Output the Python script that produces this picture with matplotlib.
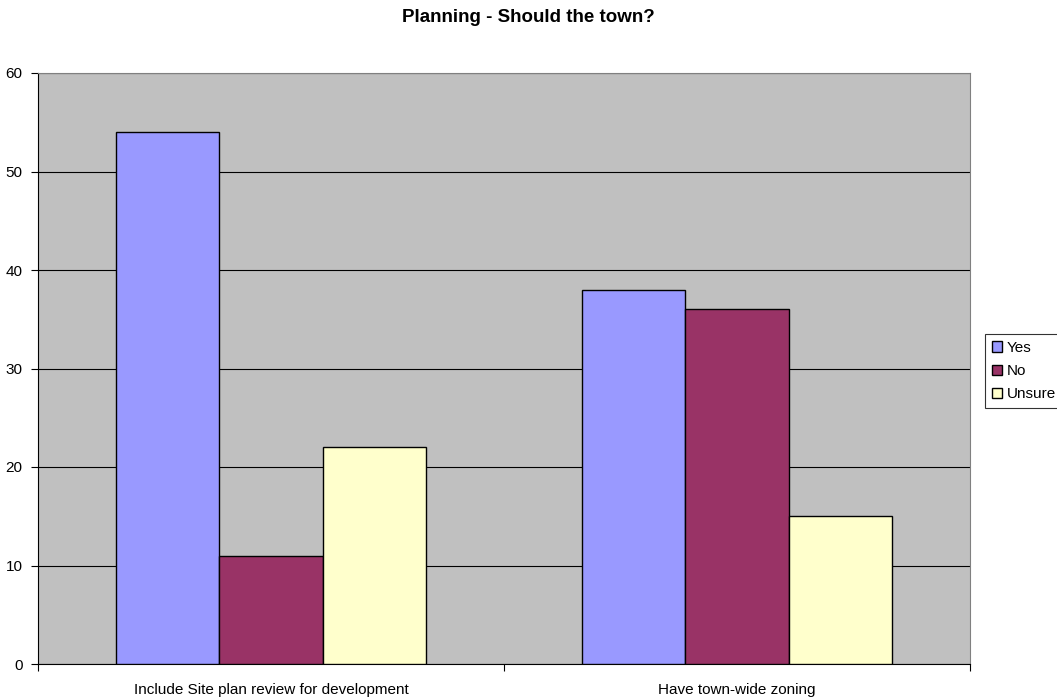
import matplotlib
matplotlib.use('Agg')
import matplotlib.pyplot as plt
import numpy as np

categories = ['Include Site plan review for development', 'Have town-wide zoning']
series_names = ['Yes', 'No', 'Unsure']
yes_values = [54, 38]
no_values = [11, 36]
unsure_values = [22, 15]
colors = ['#9999FF', '#993366', '#FFFFCC']

plt.rcParams['font.family'] = ['Liberation Sans', 'DejaVu Sans']

fig = plt.figure(figsize=(10.57, 6.98), dpi=100)
ax = fig.add_axes([38 / 1057, 34 / 698, 932 / 1057, 591 / 698])
ax.set_facecolor('#C0C0C0')

# bars: each category occupies one unit, bars centred in it
x = np.arange(len(categories)) + 0.5
width = 0.222
for i, (name, vals) in enumerate(zip(series_names, [yes_values, no_values, unsure_values])):
    ax.bar(x + (i - 1) * width, vals, width, color=colors[i], edgecolor='black',
           linewidth=1.0, label=name, zorder=3)

ax.set_xlim(0, len(categories))
ax.set_ylim(0, 60)
ax.set_yticks(np.arange(0, 61, 10))
ax.yaxis.grid(True, color='black', linewidth=0.8, zorder=1)
ax.set_axisbelow(True)

# category labels between the boundary ticks
ax.set_xticks(np.arange(len(categories) + 1))
ax.set_xticklabels([])
ax.set_xticks(x, minor=True)
ax.set_xticklabels(categories, minor=True, fontsize=11)
ax.tick_params(axis='x', which='minor', length=0, pad=14)
ax.tick_params(axis='x', which='major', length=5, direction='out', width=0.8)
ax.tick_params(axis='y', length=5, direction='out', labelsize=11, width=0.8, pad=6)

for side in ['top', 'right']:
    ax.spines[side].set_color('#808080')
    ax.spines[side].set_linewidth(0.8)
for side in ['left', 'bottom']:
    ax.spines[side].set_color('black')
    ax.spines[side].set_linewidth(0.8)

fig.text(0.5, 1 - 18 / 698, 'Planning - Should the town?', ha='center', va='center',
         fontsize=13.5, fontweight='bold')

leg = fig.legend(loc='upper left', bbox_to_anchor=(985 / 1057, 1 - 334 / 698),
                 fontsize=11, frameon=True, fancybox=False, handlelength=0.65,
                 handleheight=0.65, handletextpad=0.35, borderpad=0.45,
                 labelspacing=0.6, borderaxespad=0)
leg.get_frame().set_edgecolor('black')
leg.get_frame().set_linewidth(0.8)

fig.savefig('out.png', dpi=100, facecolor='white')
